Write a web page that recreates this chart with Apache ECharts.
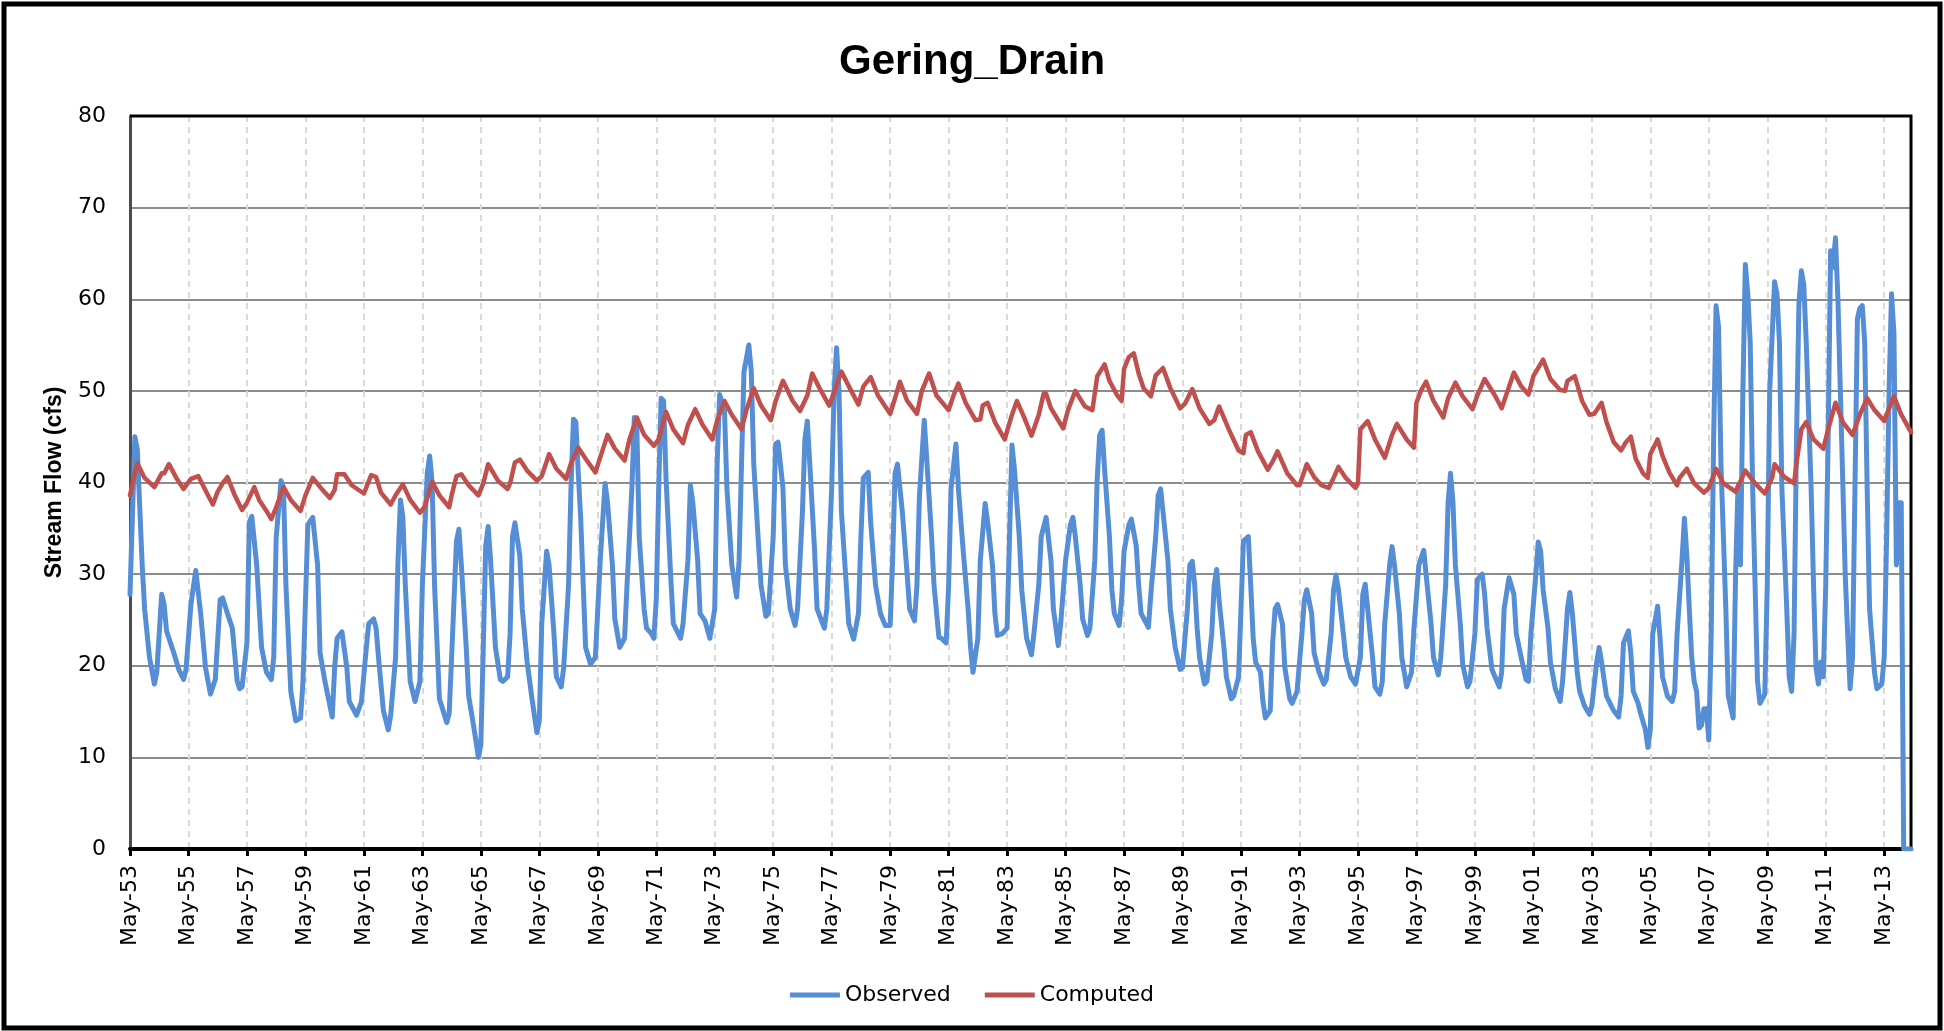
<!DOCTYPE html>
<html>
<head>
<meta charset="utf-8">
<script src="https://cdn.jsdelivr.net/npm/echarts@6/dist/echarts.min.js"></script>
<style>
html,body{margin:0;padding:0;background:#fff;}
#chart{width:1944px;height:1031px;}
</style>
</head>
<body>
<div id="chart"></div>
<script>
// x values are months counted from May 1953 (0 = May-53)
const tickLabels = ['May-53','May-55','May-57','May-59','May-61','May-63','May-65','May-67','May-69','May-71',
  'May-73','May-75','May-77','May-79','May-81','May-83','May-85','May-87','May-89','May-91','May-93','May-95',
  'May-97','May-99','May-01','May-03','May-05','May-07','May-09','May-11','May-13'];
const lastMonth = 731;

const obsMonth = [0,2,3,5,6,8,10,11,13,14,15,18,20,22,23,25,27,29,31,33,35,37,38,40,42,44,45,46,48,49,50,52,54,56,58,59,60,62,63,64,66,68,70,71,73,75,77,78,80,83,84,85,87,89,90,
93,95,97,98,100,101,102,104,106,107,109,110,111,112,113,115,117,119,120,122,123,124,125,127,130,131,132,134,135,136,138,139,141,143,144,145,146,147,148,150,152,153,155,156,157,158,160,161,163,165,167,168,169,171,172,174,175,177,178,180,181,182,183,184,185,187,
189,191,193,195,196,198,199,201,203,204,206,207,208,209,211,212,214,215,216,217,218,219,220,222,223,226,227,229,230,231,233,234,236,238,240,241,242,244,245,247,249,250,251,252,254,255,256,258,259,261,262,264,265,266,268,269,271,273,274,276,277,278,279,281,282,
285,286,288,289,290,291,292,294,295,297,299,300,301,303,304,306,308,310,312,313,314,315,317,319,320,322,323,324,326,327,329,330,332,333,335,336,337,339,340,342,344,345,346,348,349,351,352,354,355,356,358,360,361,362,363,365,366,368,370,371,373,374,376,
378,379,381,382,384,386,387,388,390,391,393,394,396,397,398,399,400,402,403,404,406,407,408,410,411,413,414,415,418,419,421,422,423,424,426,427,429,431,432,434,435,436,437,438,439,441,442,444,445,446,447,449,450,452,453,455,456,457,459,460,461,462,464,465,466,468,469,470,471,
473,474,476,477,479,481,482,483,485,486,488,490,491,493,494,495,496,498,499,501,503,505,506,507,508,510,511,513,514,515,517,518,519,521,522,524,526,527,529,531,532,534,535,537,538,540,541,542,543,544,546,547,549,550,552,553,555,556,557,559,562,563,564,566,
568,569,571,573,574,575,577,578,579,580,582,583,585,587,588,590,591,592,594,595,597,599,600,602,603,604,606,608,609,611,612,613,615,616,617,619,620,622,623,624,625,627,628,629,631,633,634,635,637,638,639,640,641,642,643,644,645,646,647,648,649,650,651,652,653,655,656,658,
659,660,661,662,663,664,665,666,667,668,669,671,672,673,675,676,677,678,680,681,682,683,684,685,686,687,688,690,691,692,693,694,695,696,697,698,699,700,701,702,703,704,705,706,707,708,709,710,711,712,713,714,716,717,719,720,721,722,723,724,725,726,727,728,729,730,731];
const obsFlow = [27.8,45.0,43.6,31,26.2,20.9,18.0,19.3,27.8,26.7,23.8,21.4,19.6,18.5,19.6,26.7,30.4,25.7,19.8,16.9,18.5,27.2,27.4,25.7,24.1,18.3,17.5,17.7,22.5,35.7,36.3,31,22,19.3,18.5,20.9,34,40.2,39.4,28.8,17.2,14.0,14.3,18.3,35.4,36.2,31,21.4,18.3,14.4,19.8,23,23.7,19.8,16.1,
14.6,16.1,22,24.6,25.1,24.1,20.9,15.1,13,14.6,20.9,31.5,38.1,36.2,28.8,18.3,16.1,18.3,28.8,41,42.9,40,28.8,16.4,13.8,14.8,20.9,33.6,34.9,31,22,16.7,13.5,10,11.4,22,33.1,35.2,31.5,22,18.5,18.3,18.8,23.5,34.1,35.6,32,26.2,20.4,16.4,12.7,14,24.6,32.5,31,23.5,18.8,17.7,19.8,28.8,39.4,46.9,46.6,41,36,22,
20.2,20.9,31.5,39.9,37.8,31,25.1,22,23,28.8,39.4,47.1,46.3,34.1,26.2,24.1,23.5,23,27.2,39.4,49.2,48.9,40.5,29.4,24.6,23,24.6,31.5,39.7,37.8,31.5,25.7,24.9,23,26.2,42.1,49.6,47.9,39.4,31,27.5,31.5,42.1,52.1,55,52.1,42.1,33.1,28.8,25.4,25.7,34.1,44.2,44.4,39.4,31,26.2,24.4,26.2,36.8,44.7,46.7,42.1,32.5,26.2,
24.1,26.2,39.4,50,54.7,50,36.8,28.8,24.6,22.9,25.7,34.1,40.5,41.1,35.7,28.8,25.7,24.4,24.4,31.5,41,42,36.8,29.9,26.2,24.9,28.8,38.4,46.8,42.6,34.1,28.8,23.1,23,22.5,28.8,39.4,44.2,39.4,32.5,26.2,22,19.3,23,31.5,37.7,35.7,31,25.7,23.3,23.5,24.1,34.1,44.1,41.5,34.1,28.3,23,21.2,23.5,28.8,34.1,36.2,
31.5,26.2,22.2,24.6,31.5,35.4,36.2,34.1,28.8,25.1,23.3,24.1,31.5,40.5,45.2,45.7,41.5,34.1,28.3,25.7,24.4,27.2,32.5,35.4,36,33.1,28.8,25.7,24.2,27.8,34.1,38.6,39.3,36.8,31.5,26.2,22,19.6,19.8,26.2,31,31.4,28.8,24.1,20.9,18,18.3,23.5,28.8,30.5,27.2,22,18.8,16.4,16.7,18.8,26.2,33.6,34.1,28.8,23,20.4,19.3,16.1,14.3,15.1,22.5,26.2,26.7,
24.6,19.8,16.4,15.9,17.2,23.5,27.2,28.3,25.7,21.4,19.3,18,18.5,23.5,28.3,29.9,28.3,23.5,20.9,18.8,18,20.9,27.8,28.9,26.2,20.9,17.7,16.9,18.3,24.6,31,33,31,25.7,20.9,17.7,19.3,24.1,31,32.6,29.9,24.6,20.9,19,20.9,28.8,37.8,41,37.8,31,24.6,20.1,17.7,18.3,23.5,29.4,30,27.8,24.1,19.6,17.7,19.3,26.2,29.6,
27.8,23.5,20.9,18.5,18.3,23.5,29.9,33.5,32.5,28.3,24.1,20.4,17.5,16.1,18.3,26.2,28,25.7,19.3,17.2,15.6,14.7,15.6,20.4,22,20.4,16.7,15.6,15.1,14.4,16.7,22.5,23.8,21.4,17.2,15.9,14.8,13,11.1,13,23.5,26.5,23,18.8,16.7,16.1,17.2,23.5,31.5,36.1,32,26.2,20.9,18.3,17.2,13.2,13.5,15.3,15.3,11.9,23.5,45,59.3,57,42,26.2,16.7,14.3,
30,39.6,31,50,63.8,60.6,55.3,39.4,28.8,18.3,15.9,16.9,28.8,50,61.9,60.6,55.3,39.4,26.2,18.8,17.2,23.5,44.7,59.5,63.1,61.6,55.3,39.4,28.8,19.8,18,20.4,18.8,28.8,45,65.3,63.5,66.7,60,50,40,30,23.5,17.5,20.9,39.4,57.9,59,59.3,55.3,39.4,26.2,19.3,17.5,18,20.9,34.1,50,60.6,56.3,31,37.8,37.8,0,0,0,0];

const compMonth = [0,3,6,10,13,14,16,19,22,25,28,32,34,36,38,40,43,46,48,51,53,56,58,60,63,66,70,72,75,79,82,84,85,88,91,
96,99,101,103,107,109,112,115,119,121,124,127,131,132,134,136,139,143,145,147,151,155,156,158,160,163,167,169,172,175,179,181,184,187,
191,196,199,203,205,208,211,215,217,220,223,227,229,232,235,239,241,244,247,251,253,256,259,263,265,268,272,275,278,280,283,
287,292,296,299,301,304,307,312,314,316,319,323,325,328,331,336,338,340,343,347,349,350,352,355,359,362,364,367,370,373,375,
376,378,383,385,388,391,392,395,397,400,402,405,407,408,410,412,414,416,419,421,424,427,431,433,436,439,443,445,447,451,455,457,458,460,463,467,469,471,
475,479,480,483,486,489,492,494,496,499,503,504,505,508,511,515,518,520,524,527,528,530,532,535,539,541,544,547,551,553,556,560,563,
568,571,574,576,580,583,587,589,590,593,596,599,601,604,606,609,612,614,616,618,621,623,624,627,629,632,635,636,639,642,646,648,651,654,659,
663,667,671,674,675,679,683,684,686,688,691,695,697,700,703,707,710,713,716,720,722,724,727,731];
const compFlow = [38.6,42.1,40.5,39.5,41,41,42,40.5,39.3,40.4,40.7,38.6,37.6,39,39.9,40.6,38.6,37,37.8,39.5,38.1,36.9,36,37.3,39.5,38.1,36.9,38.6,40.5,39.2,38.3,39.2,40.9,40.9,39.7,
38.8,40.8,40.6,38.9,37.6,38.6,39.8,38.1,36.7,37.4,40.1,38.6,37.3,38.6,40.7,40.9,39.7,38.6,39.9,42,40.2,39.3,39.9,42.2,42.5,41.3,40.2,40.7,43.1,41.5,40.4,42.1,43.8,42.6,
41.1,45.2,43.7,42.4,44.7,47.1,45.2,44,44.7,47.7,45.8,44.3,46.3,48,46.3,44.7,46.8,48.9,47.4,45.8,47.9,50.3,48.4,46.8,48.9,51.1,48.9,47.8,49.5,51.9,50.3,
48.4,52.1,50,48.5,50.5,51.5,49.5,47.5,49.2,51,48.9,47.5,50,51.9,49.5,47.9,49.5,50.8,48.7,46.8,46.9,48.4,48.7,46.6,44.7,47.4,48.9,47.1,45.1,47.4,49.7,
49.7,48.1,45.9,47.9,50,48.7,48.3,47.9,51.6,52.9,51.1,49.6,48.9,52.4,53.7,54.1,51.9,50.3,49.4,51.7,52.5,50.3,48.1,48.6,50.2,48.1,46.4,46.8,48.3,45.8,43.5,43.2,45.2,45.5,43.4,41.4,42.3,43.4,
41,39.7,39.7,42,40.6,39.7,39.4,40.5,41.7,40.5,39.4,39.9,45.8,46.7,44.7,42.7,45.2,46.4,44.7,43.8,48.7,50.1,51,48.9,47.1,49.2,50.9,49.4,48,49.5,51.3,49.6,48.1,
52,50.5,49.6,51.6,53.4,51.3,50.1,50,51.1,51.6,48.9,47.4,47.5,48.7,46.6,44.4,43.5,44.4,45,42.6,41,40.5,43.1,44.7,42.9,41,39.7,40.5,41.5,39.9,38.9,39.4,41.5,39.9,39,
41.3,39.9,38.8,40.5,42,40.6,39.9,42.1,45.8,46.6,44.7,43.7,45.8,48.7,46.6,45.2,47.4,49.2,47.9,46.7,48.1,49.4,47.4,45.5];

const observed = obsMonth.map((m, i) => [m, obsFlow[i]]);
const computed = compMonth.map((m, i) => [m, compFlow[i]]);
const tickValues = tickLabels.map((_, i) => i * 24);

const chart = echarts.init(document.getElementById('chart'), null, {renderer: 'canvas'});
const labelFont = 'DejaVu Sans';
const G = {left: 130, right: 33, top: 116, bottom: 182};
const W = 1944, H = 1031;
chart.setOption({
  backgroundColor: '#ffffff',
  animation: false,
  title: {
    text: 'Gering_Drain',
    left: 'center',
    top: 36,
    textStyle: {fontSize: 42, fontWeight: 'bold', fontFamily: 'Liberation Sans', color: '#000'}
  },
  graphic: [
    {
      type: 'rect',
      shape: {x: 4, y: 4, width: 1936, height: 1024},
      style: {fill: 'none', stroke: '#000', lineWidth: 5},
      silent: true, z: 100
    },
    {
      type: 'polyline',
      shape: {points: [[G.left, G.top], [W - G.right, G.top], [W - G.right, H - G.bottom]]},
      style: {fill: 'none', stroke: '#000', lineWidth: 3},
      silent: true, z: 1
    }
  ],
  legend: {
    data: ['Observed', 'Computed'],
    left: 'center',
    top: 979,
    icon: 'rect',
    itemWidth: 50,
    itemHeight: 5,
    itemGap: 34,
    textStyle: {fontSize: 22, fontFamily: labelFont, color: '#000'}
  },
  grid: {
    left: G.left, right: G.right, top: G.top, bottom: G.bottom,
    show: false
  },
  xAxis: {
    type: 'value',
    min: 0, max: lastMonth, interval: 24,
    axisLine: {show: true, onZero: false, lineStyle: {color: '#000', width: 4}},
    axisTick: {show: true, length: 7, inside: false, customValues: tickValues, lineStyle: {color: '#000', width: 3}},
    axisLabel: {
      rotate: 90, margin: 16, fontSize: 22, fontFamily: labelFont, color: '#000',
      customValues: tickValues,
      formatter: function (v) { return (v % 24 === 0 && tickLabels[v / 24]) ? tickLabels[v / 24] : ''; }
    },
    splitLine: {show: true, lineStyle: {color: '#d9d9d9', width: 2, type: [6, 5]}}
  },
  yAxis: {
    type: 'value',
    min: 0, max: 80, interval: 10,
    name: 'Stream Flow (cfs)',
    nameLocation: 'middle',
    nameGap: 64,
    nameRotate: 90,
    nameTextStyle: {fontSize: 23, fontWeight: 'bold', fontFamily: 'Liberation Sans', color: '#000'},
    axisLine: {show: true, lineStyle: {color: '#4d4d4d', width: 3}},
    axisTick: {show: false},
    axisLabel: {fontSize: 22, margin: 24, fontFamily: labelFont, color: '#000'},
    splitLine: {show: true, lineStyle: {color: '#8c8c8c', width: 2}}
  },
  series: [
    {
      name: 'Observed', type: 'line', data: observed, showSymbol: false, symbol: 'none',
      color: '#558ED5',
      lineStyle: {color: '#558ED5', width: 5, cap: 'round', join: 'round'},
      itemStyle: {color: '#558ED5'}
    },
    {
      name: 'Computed', type: 'line', data: computed, showSymbol: false, symbol: 'none',
      color: '#C0504D',
      lineStyle: {color: '#C0504D', width: 4.5, cap: 'round', join: 'round'},
      itemStyle: {color: '#C0504D'}
    }
  ]
});
</script>
</body>
</html>
